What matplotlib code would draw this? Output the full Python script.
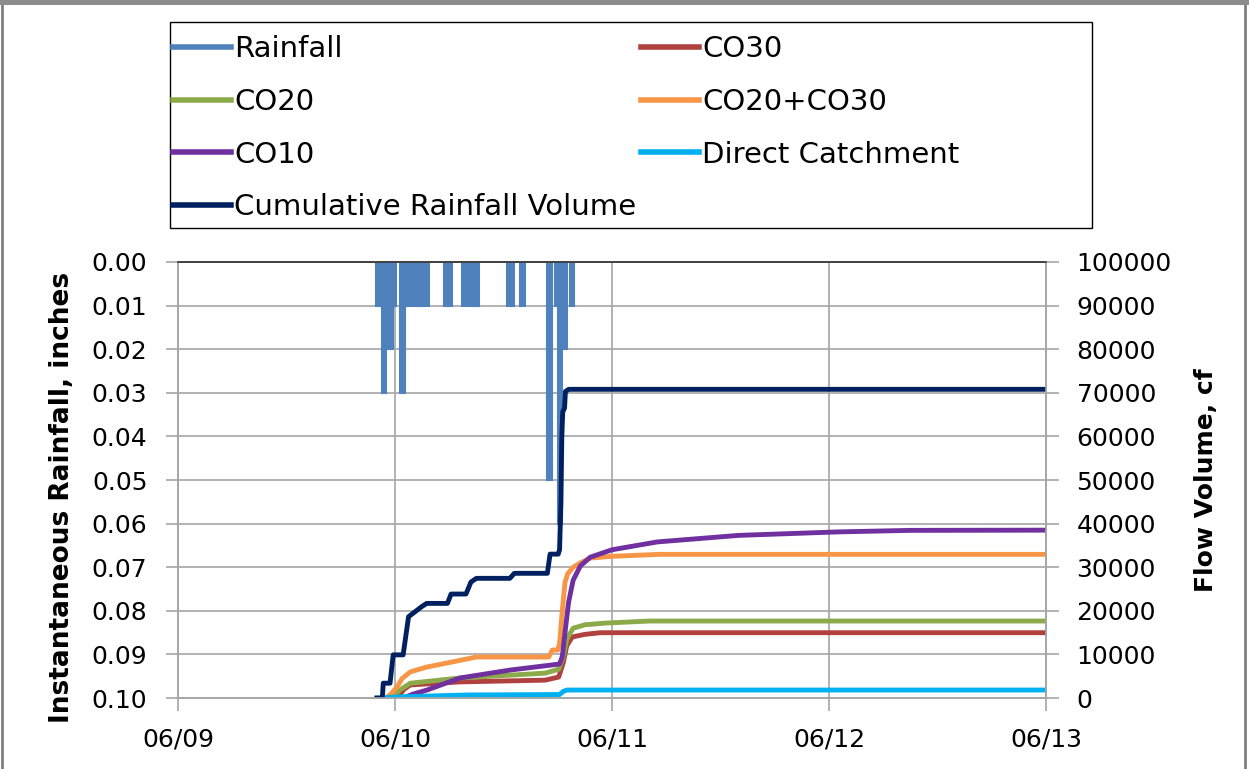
import matplotlib
matplotlib.use("Agg")
import matplotlib.pyplot as plt
from matplotlib.lines import Line2D
from matplotlib.patches import Rectangle

# time axis: hours since 06/09 00:00
day_ticks = [0, 24, 48, 72, 96]
day_labels = ["06/09", "06/10", "06/11", "06/12", "06/13"]

# rainfall pulses (start hour, end hour, depth in inches)
rain_start = [21.9, 22.55, 23.0, 23.2, 23.75, 24.55, 25.15, 27.25, 29.45, 31.45, 32.65,
              36.4, 37.8, 40.8, 41.7, 42.0, 42.5, 43.3]
rain_end = [22.45, 23.0, 23.2, 23.75, 24.1, 25.15, 27.1, 27.75, 30.3, 32.5, 33.3,
            37.2, 38.4, 41.4, 42.0, 42.5, 43.05, 43.8]
rain_depth = [0.01, 0.03, 0.01, 0.02, 0.01, 0.03, 0.01, 0.01, 0.01, 0.01, 0.01,
              0.01, 0.01, 0.05, 0.01, 0.06, 0.02, 0.01]

# flow volumes, cf
cum_t = [22.0, 22.6, 22.7, 23.45, 23.8, 24.9, 25.5, 26.95, 27.5, 29.8, 30.2, 31.85,
         32.4, 33.0, 36.7, 37.2, 40.85, 41.15, 42.05, 42.2, 42.35, 42.45, 42.55,
         42.75, 42.85, 43.2, 96.0]
cum_v = [0, 0, 3400, 3400, 9900, 9900, 18650, 20950, 21700, 21700, 23850, 23850,
         26600, 27450, 27450, 28600, 28600, 33000, 33000, 34000, 45000, 60000, 65600,
         66500, 70300, 70800, 70800]

co2030_t = [23.0, 23.6, 24.2, 24.8, 25.7, 27.5, 30.4, 33.0, 41.0, 41.4, 42.0, 42.2,
            42.5, 42.8, 43.1, 43.7, 44.5, 45.6, 48.0, 53.3, 96.0]
co2030_v = [0, 1000, 2500, 4500, 6000, 7100, 8300, 9400, 9400, 11000, 11000, 12500,
            20000, 26500, 28500, 30000, 31000, 32100, 32500, 32950, 32950]

co10_t = [24.9, 26.0, 27.5, 31.2, 36.7, 42.2, 42.5, 42.8, 43.2, 43.7, 44.5, 45.6,
          48.0, 53.0, 62.0, 73.0, 81.0, 96.0]
co10_v = [0, 900, 1800, 4600, 6400, 7800, 9500, 15000, 22000, 27000, 30300, 32300,
          34000, 35800, 37300, 38100, 38450, 38500]

co20_t = [23.8, 24.5, 25.7, 31.2, 40.6, 42.1, 42.6, 43.0, 43.7, 45.0, 47.4, 52.2, 96.0]
co20_v = [0, 1800, 3400, 4600, 5700, 6600, 9500, 13500, 16000, 16800, 17200, 17660, 17660]

co30_t = [24.2, 25.0, 25.7, 31.2, 40.6, 42.1, 42.6, 43.0, 43.6, 45.0, 46.7, 96.0]
co30_v = [0, 2000, 3000, 3700, 4100, 4800, 8000, 12000, 14000, 14600, 14980, 14980]

direct_t = [22.0, 25.0, 32.0, 42.2, 42.6, 43.0, 96.0]
direct_v = [0, 300, 700, 800, 1500, 1830, 1830]

c_rain = "#4F81BD"
c_co30 = "#B0413E"
c_co20 = "#8DAA4B"
c_co2030 = "#F79646"
c_co10 = "#7030A0"
c_direct = "#00B0F0"
c_cum = "#002060"
grid_c = "#A6A6A6"

plt.rcParams["font.family"] = ["DejaVu Sans"]

fig = plt.figure(figsize=(12.49, 7.69), dpi=100)
ax = fig.add_axes([0.1425, 0.0923, 0.695, 0.567])

ax.bar(rain_start, rain_depth, width=[e - s for s, e in zip(rain_start, rain_end)],
       align="edge", color=c_rain, edgecolor=c_rain, linewidth=1.5, zorder=2)
ax.set_ylim(0.10, 0.0)
ax.set_xlim(0, 96)
ax.set_yticks([i / 100 for i in range(11)])
ax.set_yticklabels([f"{i / 100:.2f}" for i in range(11)])
ax.set_xticks(day_ticks)
ax.set_xticklabels(day_labels)
ax.grid(True, color=grid_c, linewidth=1.2, zorder=0)
ax.set_axisbelow(True)
ax.set_ylabel("Instantaneous Rainfall, inches", fontsize=19, fontweight="bold")
ax.yaxis.set_label_coords(-0.119, 0.46)

ax2 = ax.twinx()
ax2.plot(co30_t, co30_v, color=c_co30, lw=3.5)
ax2.plot(co20_t, co20_v, color=c_co20, lw=3.5)
ax2.plot(co2030_t, co2030_v, color=c_co2030, lw=3.5)
ax2.plot(co10_t, co10_v, color=c_co10, lw=3.5)
ax2.plot(direct_t, direct_v, color=c_direct, lw=3.5)
ax2.plot(cum_t, cum_v, color=c_cum, lw=3.5)
ax2.set_ylim(0, 100000)
ax2.set_yticks(range(0, 100001, 10000))
ax2.set_ylabel("Flow Volume, cf", fontsize=18, fontweight="bold", labelpad=16)

for a in (ax, ax2):
    a.tick_params(labelsize=18, length=9, width=1.2, color=grid_c)
    for s in ("left", "right", "bottom"):
        a.spines[s].set_color(grid_c)
        a.spines[s].set_linewidth(1.2)
    a.spines["top"].set_color("#404040")
    a.spines["top"].set_linewidth(1.2)
ax.tick_params(axis="y", pad=13)
ax.tick_params(axis="x", pad=12)
ax2.tick_params(axis="y", pad=13)

names = ["Rainfall", "CO30", "CO20", "CO20+CO30", "CO10", "Direct Catchment",
         "Cumulative Rainfall Volume"]
cols = [c_rain, c_co30, c_co20, c_co2030, c_co10, c_direct, c_cum]
handles = [Line2D([], [], color=c, lw=4) for c in cols]
order = [0, 2, 4, 6, 1, 3, 5]
leg = fig.legend([handles[i] for i in order], [names[i] for i in order],
                 loc="upper left", bbox_to_anchor=(173 / 1249, 1 - 35 / 769),
                 ncol=2, frameon=False, handlelength=2.0, handletextpad=0.1,
                 labelspacing=0.85, borderaxespad=0, borderpad=0, columnspacing=0.15,
                 prop={"size": 21})

fig.patches.append(Rectangle((170 / 1249, 1 - 228 / 769), 922 / 1249, 206 / 769,
                             transform=fig.transFigure, fill=False,
                             edgecolor="black", linewidth=1.0))
fig.patches.append(Rectangle((0.002, -0.01), 0.995, 1.01, transform=fig.transFigure,
                             fill=False, edgecolor="#808080", linewidth=2))
fig.patches.append(Rectangle((0, 0.994), 1, 0.006, transform=fig.transFigure,
                             facecolor="#8C8C8C", edgecolor="none"))

fig.savefig("out.png", dpi=100)
